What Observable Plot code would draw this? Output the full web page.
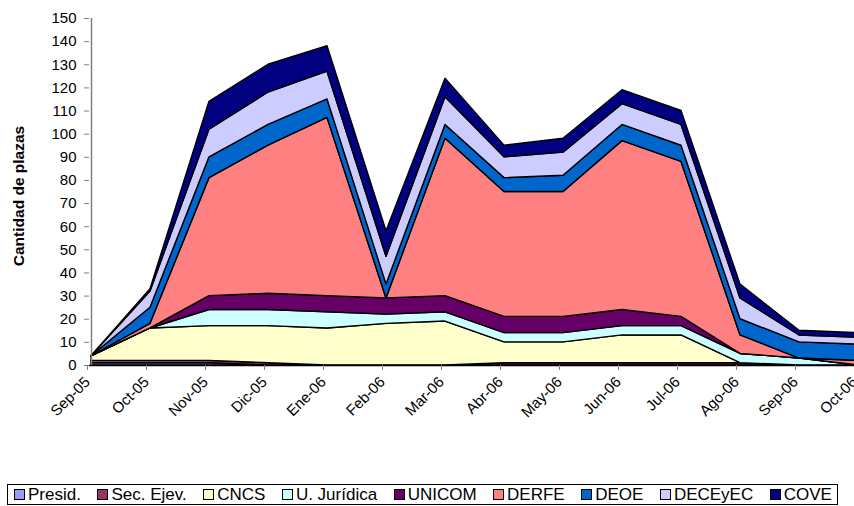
<!DOCTYPE html>
<html><head><meta charset="utf-8">
<script src="https://cdn.jsdelivr.net/npm/d3@7"></script>
<script src="https://cdn.jsdelivr.net/npm/@observablehq/plot@0.6"></script>
<style>
body{margin:0;background:#fff;font-family:"Liberation Sans",Arial,sans-serif;}
#wrap{position:relative;width:854px;height:506px;overflow:hidden;}
#legend{position:absolute;left:7px;top:484px;width:831px;height:21px;border:1px solid #000;display:flex;align-items:center;justify-content:space-between;padding:0 5px 0 6px;box-sizing:border-box;font-size:17px;color:#000;}
.item{display:flex;align-items:center;white-space:nowrap;}
.sw{width:9px;height:9px;border:1px solid #000;margin-right:3px;}
#ytitle{position:absolute;left:19px;top:196px;transform:translate(-50%,-50%) rotate(-90deg);font-weight:bold;font-size:15.5px;white-space:nowrap;color:#000;}
</style></head><body><div id="wrap"><div id="chart"></div><div id="ytitle">Cantidad de plazas</div><div id="legend"></div></div>
<script>
const months = ["Sep-05","Oct-05","Nov-05","Dic-05","Ene-06","Feb-06","Mar-06","Abr-06","May-06","Jun-06","Jul-06","Ago-06","Sep-06","Oct-06"];
const series = ["Presid.","Sec. Ejev.","CNCS","U. Jurídica","UNICOM","DERFE","DEOE","DECEyEC","COVE"];
const colors = ["#9999FF","#993366","#FFFFCC","#CCFFFF","#660066","#FF8080","#0066CC","#CCCCFF","#000080"];
const yTicks = [0,10,20,30,40,50,60,70,80,90,100,110,120,130,140,150];

const presid   = [1,1,1,0,0,0,0,0,0,0,0,0,0,0];
const secEjev  = [1,1,1,1,0,0,0,1,1,1,1,1,0,0];
const cncs     = [2,14,15,16,16,18,19,9,9,12,12,0,0,0];
const uJuridica= [0,0,7,7,7,4,4,4,4,4,4,4,3,0];
const unicom   = [0,0,6,7,7,7,7,7,7,7,4,0,0,0];
const derfe    = [0,2,51,64,77,0,68,54,54,73,67,8,0,2];
const deoe     = [0,7,9,9,8,6,6,6,7,7,7,7,7,7];
const deceyec  = [0,7,12,14,12,12,12,9,10,9,9,9,3,3];
const cove     = [0,1,12,12,11,11,8,5,6,6,6,6,2,2];

const values = [presid,secEjev,cncs,uJuridica,unicom,derfe,deoe,deceyec,cove];
const rows = series.flatMap((s,i)=>months.map((m,j)=>({month:m, serie:s, value:values[i][j]})));

const chart = Plot.plot({
  width: 854, height: 480,
  marginLeft: 89, marginTop: 18, marginBottom: 115, marginRight: 0,
  style: {fontFamily: "Liberation Sans, Arial, sans-serif", fontSize: "15px", overflow: "hidden", background: "#fff"},
  x: {type: "point", domain: months, range: [89, 860], padding: 0},
  y: {domain: [0,150]},
  color: {domain: series, range: colors},
  marks: [
    Plot.areaY(rows, {x:"month", y:"value", z:"serie", fill:"serie", stroke:"#000", strokeWidth:1.4, strokeLinejoin:"round"}),
    Plot.ruleX([months[0]], {stroke:"#808080", strokeWidth:1.5}),
    Plot.ruleY([0], {stroke:"#000", strokeWidth:1.5}),
    Plot.axisY({ticks: yTicks, tickSize:5, tickPadding:8, stroke:"#808080", fill:"#000", label:null}),
    Plot.axisX({tickSize:5, tickRotate:-45, tickPadding:9, dx:-4, stroke:"#808080", fill:"#000", label:null})
  ]
});
document.getElementById("chart").appendChild(chart);

const legend = document.getElementById("legend");
series.forEach((s,i)=>{
  const it = document.createElement("div"); it.className="item";
  const sw = document.createElement("span"); sw.className="sw"; sw.style.background=colors[i];
  const t = document.createElement("span"); t.textContent = s;
  it.appendChild(sw); it.appendChild(t); legend.appendChild(it);
});
</script></body></html>
